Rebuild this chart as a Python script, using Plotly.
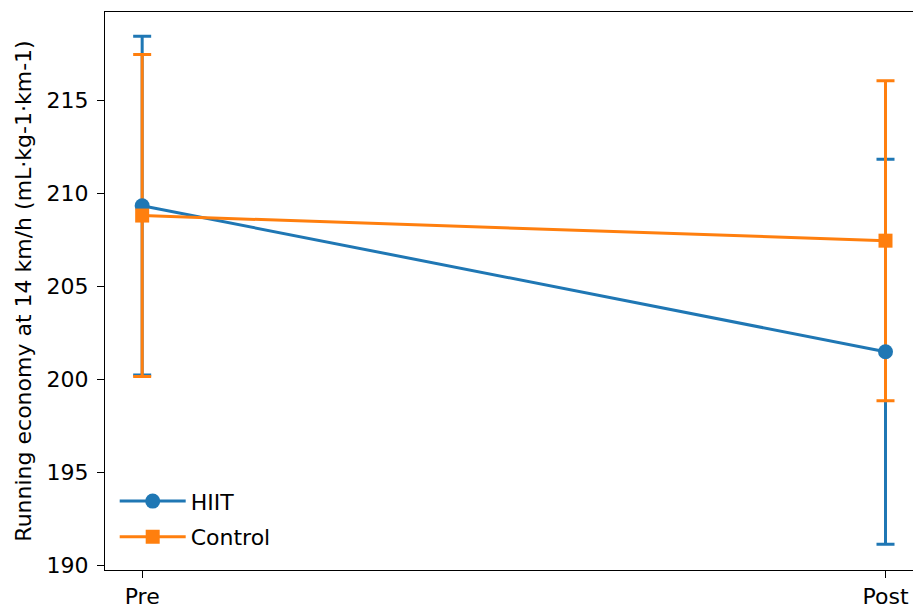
import plotly.graph_objects as go

# Time points and group summaries (mean ± SD)
time_points = ["Pre", "Post"]
hiit_mean = [209.35, 201.5]
hiit_sd = [9.1, 10.35]
control_mean = [208.82, 207.47]
control_sd = [8.65, 8.6]

BLUE = "#1f77b4"
ORANGE = "#ff7f0e"
FONT_SIZE = 22
x_pos = list(range(len(time_points)))

fig = go.Figure()

# Error bars first so the lines and markers sit on top
for mean, sd, color in [(hiit_mean, hiit_sd, BLUE), (control_mean, control_sd, ORANGE)]:
    fig.add_trace(go.Scatter(
        x=x_pos, y=mean, mode="markers",
        marker=dict(size=1, color="rgba(0,0,0,0)"),
        error_y=dict(type="data", array=sd, visible=True, color=color,
                     thickness=3, width=9),
        showlegend=False, hoverinfo="skip",
    ))

fig.add_trace(go.Scatter(
    x=x_pos, y=hiit_mean, mode="lines+markers", name="HIIT", legendgroup="hiit",
    line=dict(color=BLUE, width=3),
    marker=dict(symbol="circle", size=15, color=BLUE),
))
fig.add_trace(go.Scatter(
    x=x_pos, y=control_mean, mode="lines+markers", name="Control", legendgroup="control",
    line=dict(color=ORANGE, width=3),
    marker=dict(symbol="square", size=14, color=ORANGE),
))

fig.update_layout(
    width=913, height=607,
    margin=dict(l=105, r=0, t=12, b=37, autoexpand=False),
    paper_bgcolor="white", plot_bgcolor="white",
    font=dict(family="DejaVu Sans", size=FONT_SIZE, color="black"),
    showlegend=True,
    legend=dict(x=0.012, y=0.021, xanchor="left", yanchor="bottom",
                bgcolor="rgba(255,255,255,0)", font=dict(size=FONT_SIZE),
                itemwidth=66, tracegroupgap=4),
)

fig.update_xaxes(
    range=[-0.05, 1.037], automargin=False,
    tickvals=x_pos, ticktext=time_points,
    showgrid=False, zeroline=False,
    showline=True, mirror=True, linecolor="black", linewidth=1.3,
    ticks="outside", ticklen=7, tickcolor="black", tickwidth=1.3,
    ticklabelstandoff=-1,
    tickfont=dict(size=FONT_SIZE),
)
fig.update_yaxes(
    range=[189.77, 219.76], automargin=False,
    tickvals=[190, 195, 200, 205, 210, 215],
    showgrid=False, zeroline=False,
    showline=True, mirror=False, linecolor="black", linewidth=1.3,
    ticks="outside", ticklen=7, tickcolor="black", tickwidth=1.3,
    ticklabelstandoff=4,
    tickfont=dict(size=FONT_SIZE),
    title=dict(text="Running economy at 14 km/h (mL·kg-1·km-1)",
               font=dict(size=FONT_SIZE), standoff=8),
)

fig.write_html("out.html")
